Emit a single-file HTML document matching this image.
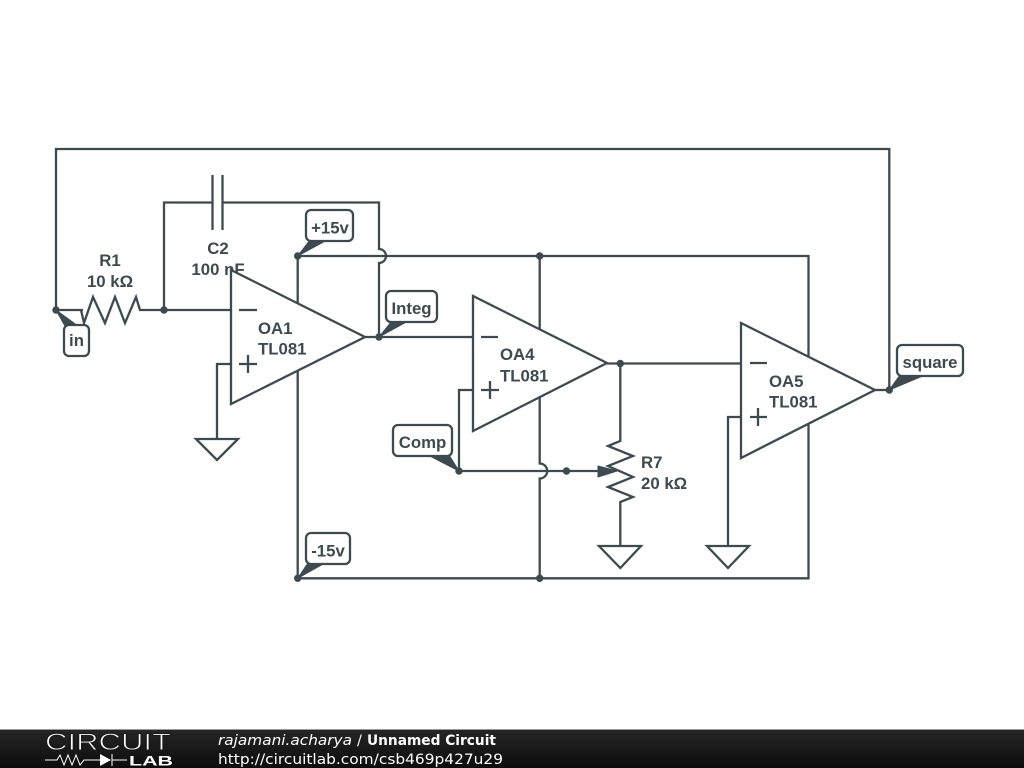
<!DOCTYPE html>
<html>
<head>
<meta charset="utf-8">
<style>
html,body{margin:0;padding:0;background:#fff;width:1024px;height:768px;overflow:hidden}
svg{display:block}
.w{fill:none;stroke:#3d4a50;stroke-width:2.3;stroke-linejoin:miter}
.t{font-family:"Liberation Sans",sans-serif;font-size:16.8px;font-weight:bold;fill:#3d4a50;stroke:none}
.box{fill:#fff;stroke:#3d4a50;stroke-width:2.3}
.oa{fill:#fff;stroke:#3d4a50;stroke-width:2.3}
.d{fill:#3d4a50;stroke:#3d4a50;stroke-width:1;stroke-linejoin:round}
.f{font-family:"DejaVu Sans",sans-serif;font-size:14.5px;fill:#fff}
</style>
</head>
<body>
<svg width="1024" height="768" viewBox="0 0 1024 768" xmlns="http://www.w3.org/2000/svg">
<defs>
<linearGradient id="g" x1="0" y1="0" x2="0" y2="1"><stop offset="0" stop-color="#262626"/><stop offset="1" stop-color="#0c0c0c"/></linearGradient>
</defs>
<rect width="1024" height="768" fill="#fff"/>

<text class="t" x="218" y="254" text-anchor="middle">C2</text>
<text class="t" x="218" y="275" text-anchor="middle">100 nF</text>
<text class="t" x="110" y="266" text-anchor="middle">R1</text>
<text class="t" x="110" y="287" text-anchor="middle">10 kΩ</text>

<!-- wires -->
<path class="w" d="M56 310V149H889.300V390"/>
<path class="w" d="M56 310H83M81 310L84 323L93 297L105 323L115 297L125 323L136 297L140 310H231"/>
<path class="w" d="M164 310V202.500H212M222 202.500H379V249A7 7 0 0 1 379 263V337"/>
<path class="w" d="M212.500 175V230M222.500 175V230"/>
<path class="w" d="M297.700 256H808.500V578.300H297.700Z"/>
<path class="w" d="M539.700 256V463.500A7.500 7.500 0 0 1 539.700 478.500V578"/>
<path class="w" d="M365 337H473"/>
<path class="w" d="M607 363.500H741"/>
<path class="w" d="M875 390H889"/>
<path class="w" d="M231 364H217V439"/>
<path class="w" d="M196 439H238L217 460Z"/>
<path class="w" d="M741 417H728V546"/>
<path class="w" d="M707 546H749L728 568Z"/>
<path class="w" d="M473 390H459V471H600"/>
<path class="w" d="M620.300 363V441L608 446L633 456L608 466L633 477L608 487L633 497L620.300 502V546"/>
<path class="w" d="M599 546H641L620.300 568Z"/>
<path class="d" d="M598 466L617 471L598 477Z"/>

<!-- op amps -->
<path class="oa" d="M231 270V404L365 337Z"/>
<path class="oa" d="M473 296V431L607 363Z"/>
<path class="oa" d="M741 323V458L875 390Z"/>
<path class="w" d="M239 310H257M239 364H257M248 355V373"/>
<path class="w" d="M481 337H498M481 390H499M490 381V399"/>
<path class="w" d="M750 363H767M750 417H767M758 408V426"/>

<text class="t" x="258" y="334">OA1</text>
<text class="t" x="258" y="354.500">TL081</text>
<text class="t" x="500" y="360">OA4</text>
<text class="t" x="500" y="381.500">TL081</text>
<text class="t" x="769" y="387">OA5</text>
<text class="t" x="769" y="407.500">TL081</text>
<text class="t" x="641" y="468">R7</text>
<text class="t" x="641" y="489">20 kΩ</text>

<!-- junctions -->
<circle class="d" cx="56" cy="310" r="3.200"/>
<circle class="d" cx="164" cy="310" r="3.200"/>
<circle class="d" cx="297.700" cy="256" r="3.200"/>
<circle class="d" cx="539.700" cy="256" r="3.200"/>
<circle class="d" cx="379" cy="337" r="3.200"/>
<circle class="d" cx="620.300" cy="363.500" r="3.200"/>
<circle class="d" cx="889.300" cy="390" r="3.200"/>
<circle class="d" cx="459" cy="471" r="3.200"/>
<circle class="d" cx="566.500" cy="471" r="3.200"/>
<circle class="d" cx="297.700" cy="578.300" r="3.200"/>
<circle class="d" cx="539.700" cy="578.300" r="3.200"/>

<!-- flags -->
<path class="d" d="M297.700 256L310 240H327Z"/>
<rect class="box" x="306" y="210" width="47" height="31" rx="5"/>
<text class="t" x="330" y="233.500" text-anchor="middle">+15v</text>

<path class="d" d="M379 337L392 321H408Z"/>
<rect class="box" x="386" y="291" width="51" height="31" rx="5"/>
<text class="t" x="411.500" y="314" text-anchor="middle">Integ</text>

<path class="d" d="M56 310L65 326H78Z"/>
<rect class="box" x="64" y="325" width="25" height="31" rx="5"/>
<text class="t" x="76.500" y="346" text-anchor="middle">in</text>

<path class="d" d="M459 471L428 455H449Z"/>
<rect class="box" x="393" y="425" width="59" height="31" rx="5"/>
<text class="t" x="422.500" y="448" text-anchor="middle">Comp</text>

<path class="d" d="M889.300 390L900 375H925Z"/>
<rect class="box" x="897" y="345" width="66" height="31" rx="5"/>
<text class="t" x="930" y="368" text-anchor="middle">square</text>

<path class="d" d="M297.700 578.300L308 563H325Z"/>
<rect class="box" x="306" y="533" width="44" height="31" rx="5"/>
<text class="t" x="328" y="556.500" text-anchor="middle">-15v</text>

<!-- footer -->
<rect x="0" y="729" width="1024" height="39" fill="url(#g)"/>
<rect x="0" y="729" width="1024" height="1" fill="#999"/>
<text x="45" y="750" textLength="126" lengthAdjust="spacingAndGlyphs" style="font-family:'Liberation Sans',sans-serif;font-size:24px;fill:#fff;stroke:#181818;stroke-width:.9px">CIRCUIT</text>
<path d="M45 760H57L60 755L64 765L68 755L72 765L76 755L80 765L84 760H100M112 754V766M112 760H127" fill="none" stroke="#fff" stroke-width="1"/>
<path d="M100 754L111 760L100 766Z" fill="#fff"/>
<text x="129" y="765.500" textLength="44" lengthAdjust="spacingAndGlyphs" style="font-family:'Liberation Sans',sans-serif;font-size:14px;font-weight:bold;fill:#fff">LAB</text>
<text class="f" x="218" y="745" textLength="134" lengthAdjust="spacingAndGlyphs" font-style="italic">rajamani.acharya</text>
<text class="f" x="357" y="745">/</text>
<text class="f" x="367" y="745" textLength="129" lengthAdjust="spacingAndGlyphs" font-weight="bold">Unnamed Circuit</text>
<text class="f" x="218" y="764" textLength="285" lengthAdjust="spacingAndGlyphs">http://circuitlab.com/csb469p427u29</text>
</svg>
</body>
</html>
